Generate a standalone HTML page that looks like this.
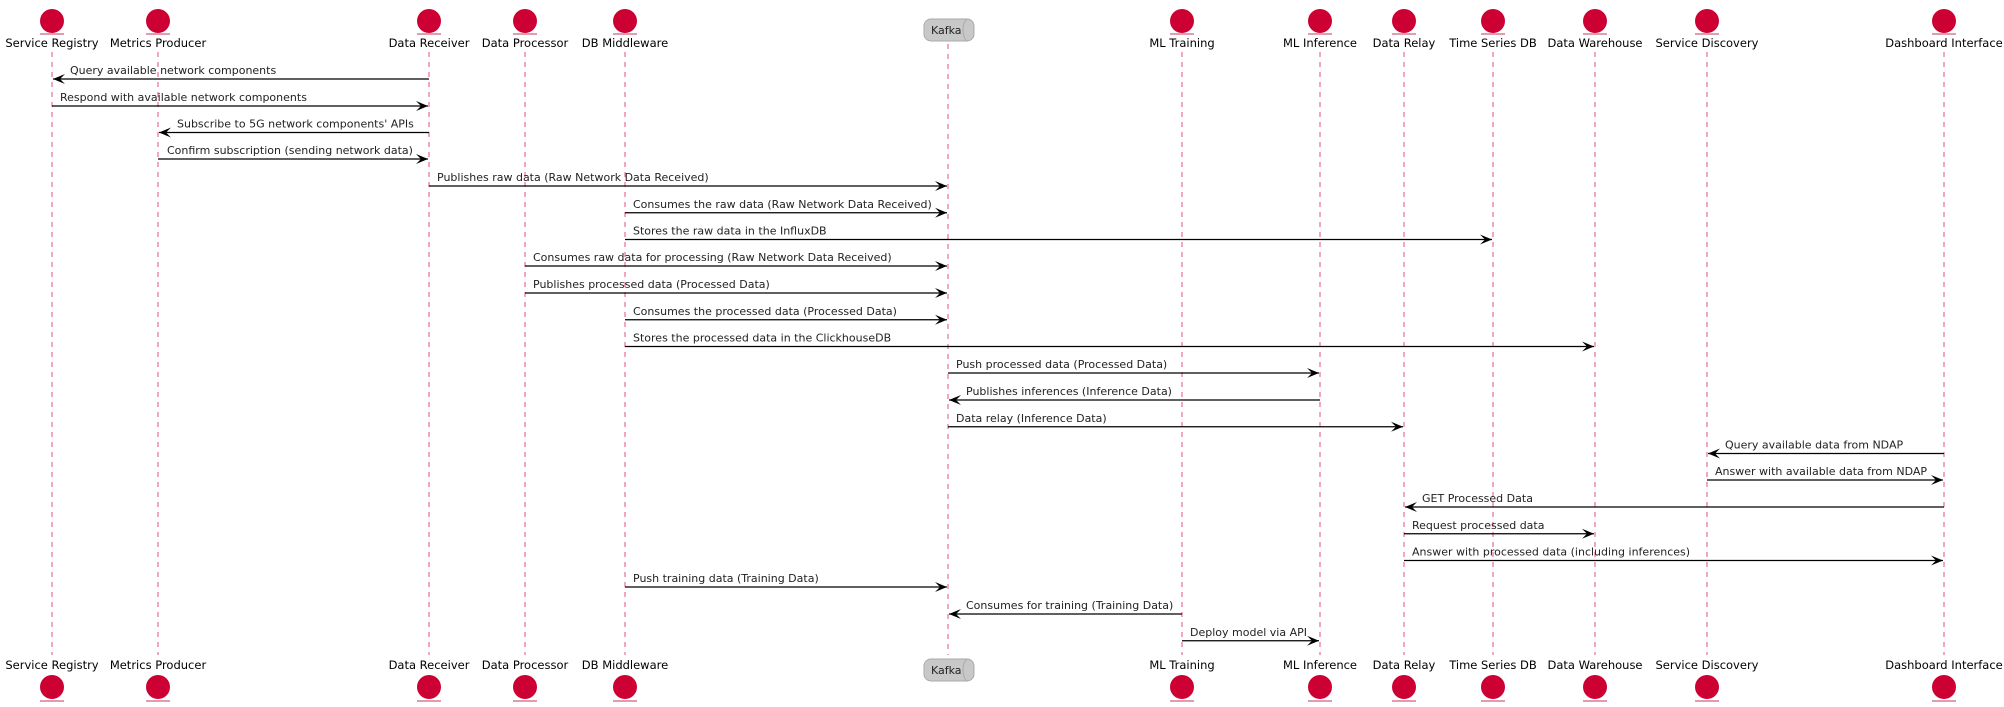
<!DOCTYPE html>
<html><head><meta charset="utf-8"><style>
html,body{margin:0;padding:0;background:#fff;}
svg{display:block;}
.p{font-family:"DejaVu Sans","Liberation Sans",sans-serif;font-size:11.5px;fill:#000;text-anchor:middle;}
.m{font-family:"DejaVu Sans","Liberation Sans",sans-serif;font-size:11px;fill:#222;}
.ll{stroke:#e0507a;stroke-width:1;stroke-dasharray:5,5;}
.ar{stroke:#000;stroke-width:1.3;}
</style></head><body>
<svg width="2004" height="707" viewBox="0 0 2004 707" xmlns="http://www.w3.org/2000/svg">
<g class="ll">
<line x1="52" y1="52" x2="52" y2="655"/><line x1="158" y1="52" x2="158" y2="655"/>
<line x1="429" y1="52" x2="429" y2="655"/><line x1="525" y1="52" x2="525" y2="655"/>
<line x1="625" y1="52" x2="625" y2="655"/><line x1="948" y1="44" x2="948" y2="655"/>
<line x1="1182" y1="52" x2="1182" y2="655"/><line x1="1320" y1="52" x2="1320" y2="655"/>
<line x1="1404" y1="52" x2="1404" y2="655"/><line x1="1493" y1="52" x2="1493" y2="655"/>
<line x1="1595" y1="52" x2="1595" y2="655"/><line x1="1707" y1="52" x2="1707" y2="655"/>
<line x1="1944" y1="52" x2="1944" y2="655"/>
</g>
<g fill="#cc0033">
<circle cx="52" cy="21" r="12"/><circle cx="158" cy="21" r="12"/><circle cx="429" cy="21" r="12"/><circle cx="525" cy="21" r="12"/><circle cx="625" cy="21" r="12"/><circle cx="1182" cy="21" r="12"/><circle cx="1320" cy="21" r="12"/><circle cx="1404" cy="21" r="12"/><circle cx="1493" cy="21" r="12"/><circle cx="1595" cy="21" r="12"/><circle cx="1707" cy="21" r="12"/><circle cx="1944" cy="21" r="12"/>
<circle cx="52" cy="687" r="12"/><circle cx="158" cy="687" r="12"/><circle cx="429" cy="687" r="12"/><circle cx="525" cy="687" r="12"/><circle cx="625" cy="687" r="12"/><circle cx="1182" cy="687" r="12"/><circle cx="1320" cy="687" r="12"/><circle cx="1404" cy="687" r="12"/><circle cx="1493" cy="687" r="12"/><circle cx="1595" cy="687" r="12"/><circle cx="1707" cy="687" r="12"/><circle cx="1944" cy="687" r="12"/>
</g>
<g stroke="#d06080" stroke-width="1.2">
<line x1="40" y1="34" x2="64" y2="34"/><line x1="146" y1="34" x2="170" y2="34"/><line x1="417" y1="34" x2="441" y2="34"/><line x1="513" y1="34" x2="537" y2="34"/><line x1="613" y1="34" x2="637" y2="34"/><line x1="1170" y1="34" x2="1194" y2="34"/><line x1="1308" y1="34" x2="1332" y2="34"/><line x1="1392" y1="34" x2="1416" y2="34"/><line x1="1481" y1="34" x2="1505" y2="34"/><line x1="1583" y1="34" x2="1607" y2="34"/><line x1="1695" y1="34" x2="1719" y2="34"/><line x1="1932" y1="34" x2="1956" y2="34"/>
<line x1="40" y1="701" x2="64" y2="701"/><line x1="146" y1="701" x2="170" y2="701"/><line x1="417" y1="701" x2="441" y2="701"/><line x1="513" y1="701" x2="537" y2="701"/><line x1="613" y1="701" x2="637" y2="701"/><line x1="1170" y1="701" x2="1194" y2="701"/><line x1="1308" y1="701" x2="1332" y2="701"/><line x1="1392" y1="701" x2="1416" y2="701"/><line x1="1481" y1="701" x2="1505" y2="701"/><line x1="1583" y1="701" x2="1607" y2="701"/><line x1="1695" y1="701" x2="1719" y2="701"/><line x1="1932" y1="701" x2="1956" y2="701"/>
</g>
<rect x="924" y="19" width="50" height="22" rx="7" fill="#c8c8c8" stroke="#aaa"/>
<path d="M968 19 a5 11 0 0 0 0 22" fill="none" stroke="#aaa"/>
<rect x="924" y="659" width="50" height="22" rx="7" fill="#c8c8c8" stroke="#aaa"/>
<path d="M968 659 a5 11 0 0 0 0 22" fill="none" stroke="#aaa"/>
<text class="m" x="931" y="34">Kafka</text><text class="m" x="931" y="674">Kafka</text>
<g class="p">
<text x="52" y="47">Service Registry</text><text x="158" y="47">Metrics Producer</text><text x="429" y="47">Data Receiver</text><text x="525" y="47">Data Processor</text><text x="625" y="47">DB Middleware</text><text x="1182" y="47">ML Training</text><text x="1320" y="47">ML Inference</text><text x="1404" y="47">Data Relay</text><text x="1493" y="47">Time Series DB</text><text x="1595" y="47">Data Warehouse</text><text x="1707" y="47">Service Discovery</text><text x="1944" y="47">Dashboard Interface</text>
<text x="52" y="669">Service Registry</text><text x="158" y="669">Metrics Producer</text><text x="429" y="669">Data Receiver</text><text x="525" y="669">Data Processor</text><text x="625" y="669">DB Middleware</text><text x="1182" y="669">ML Training</text><text x="1320" y="669">ML Inference</text><text x="1404" y="669">Data Relay</text><text x="1493" y="669">Time Series DB</text><text x="1595" y="669">Data Warehouse</text><text x="1707" y="669">Service Discovery</text><text x="1944" y="669">Dashboard Interface</text>
</g>
<g class="ar">
<line x1="429" y1="79" x2="53" y2="79"/><line x1="52" y1="106" x2="428" y2="106"/>
<line x1="429" y1="132.5" x2="159" y2="132.5"/><line x1="158" y1="159" x2="428" y2="159"/>
<line x1="429" y1="186" x2="947" y2="186"/><line x1="625" y1="212.75" x2="947" y2="212.75"/>
<line x1="625" y1="239.5" x2="1492" y2="239.5"/><line x1="525" y1="266" x2="947" y2="266"/>
<line x1="525" y1="293" x2="947" y2="293"/><line x1="625" y1="319.75" x2="947" y2="319.75"/>
<line x1="625" y1="346.5" x2="1594" y2="346.5"/><line x1="948" y1="373" x2="1319" y2="373"/>
<line x1="1320" y1="400" x2="949" y2="400"/><line x1="948" y1="426.75" x2="1403" y2="426.75"/>
<line x1="1944" y1="453.5" x2="1708" y2="453.5"/><line x1="1707" y1="480" x2="1943" y2="480"/>
<line x1="1944" y1="507" x2="1405" y2="507"/><line x1="1404" y1="533.75" x2="1594" y2="533.75"/>
<line x1="1404" y1="560.5" x2="1943" y2="560.5"/><line x1="625" y1="587" x2="947" y2="587"/>
<line x1="1182" y1="614" x2="949" y2="614"/><line x1="1182" y1="640.75" x2="1319" y2="640.75"/>
</g>
<g fill="#000">
<polygon points="53,79 65,74 60,79 65,84"/>
<polygon points="428,106 416,101 421,106 416,111"/>
<polygon points="159,132.5 171,127.5 166,132.5 171,137.5"/>
<polygon points="428,159 416,154 421,159 416,164"/>
<polygon points="947,186 935,181 940,186 935,191"/>
<polygon points="947,212.75 935,207.75 940,212.75 935,217.75"/>
<polygon points="1492,239.5 1480,234.5 1485,239.5 1480,244.5"/>
<polygon points="947,266 935,261 940,266 935,271"/>
<polygon points="947,293 935,288 940,293 935,298"/>
<polygon points="947,319.75 935,314.75 940,319.75 935,324.75"/>
<polygon points="1594,346.5 1582,341.5 1587,346.5 1582,351.5"/>
<polygon points="1319,373 1307,368 1312,373 1307,378"/>
<polygon points="949,400 961,395 956,400 961,405"/>
<polygon points="1403,426.75 1391,421.75 1396,426.75 1391,431.75"/>
<polygon points="1708,453.5 1720,448.5 1715,453.5 1720,458.5"/>
<polygon points="1943,480 1931,475 1936,480 1931,485"/>
<polygon points="1405,507 1417,502 1412,507 1417,512"/>
<polygon points="1594,533.75 1582,528.75 1587,533.75 1582,538.75"/>
<polygon points="1943,560.5 1931,555.5 1936,560.5 1931,565.5"/>
<polygon points="947,587 935,582 940,587 935,592"/>
<polygon points="949,614 961,609 956,614 961,619"/>
<polygon points="1319,640.75 1307,635.75 1312,640.75 1307,645.75"/>
</g>
<g class="m">
<text x="70" y="74">Query available network components</text>
<text x="60" y="101">Respond with available network components</text>
<text x="177" y="127.5">Subscribe to 5G network components' APIs</text>
<text x="167" y="154">Confirm subscription (sending network data)</text>
<text x="437" y="181">Publishes raw data (Raw Network Data Received)</text>
<text x="633" y="207.75">Consumes the raw data (Raw Network Data Received)</text>
<text x="633" y="234.5">Stores the raw data in the InfluxDB</text>
<text x="533" y="261">Consumes raw data for processing (Raw Network Data Received)</text>
<text x="533" y="288">Publishes processed data (Processed Data)</text>
<text x="633" y="314.75">Consumes the processed data (Processed Data)</text>
<text x="633" y="341.5">Stores the processed data in the ClickhouseDB</text>
<text x="956" y="368">Push processed data (Processed Data)</text>
<text x="966" y="395">Publishes inferences (Inference Data)</text>
<text x="956" y="421.75">Data relay (Inference Data)</text>
<text x="1725" y="448.5">Query available data from NDAP</text>
<text x="1715" y="475">Answer with available data from NDAP</text>
<text x="1422" y="502">GET Processed Data</text>
<text x="1412" y="528.75">Request processed data</text>
<text x="1412" y="555.5">Answer with processed data (including inferences)</text>
<text x="633" y="582">Push training data (Training Data)</text>
<text x="966" y="609">Consumes for training (Training Data)</text>
<text x="1190" y="635.75">Deploy model via API</text>
</g>
</svg>
</body></html>
